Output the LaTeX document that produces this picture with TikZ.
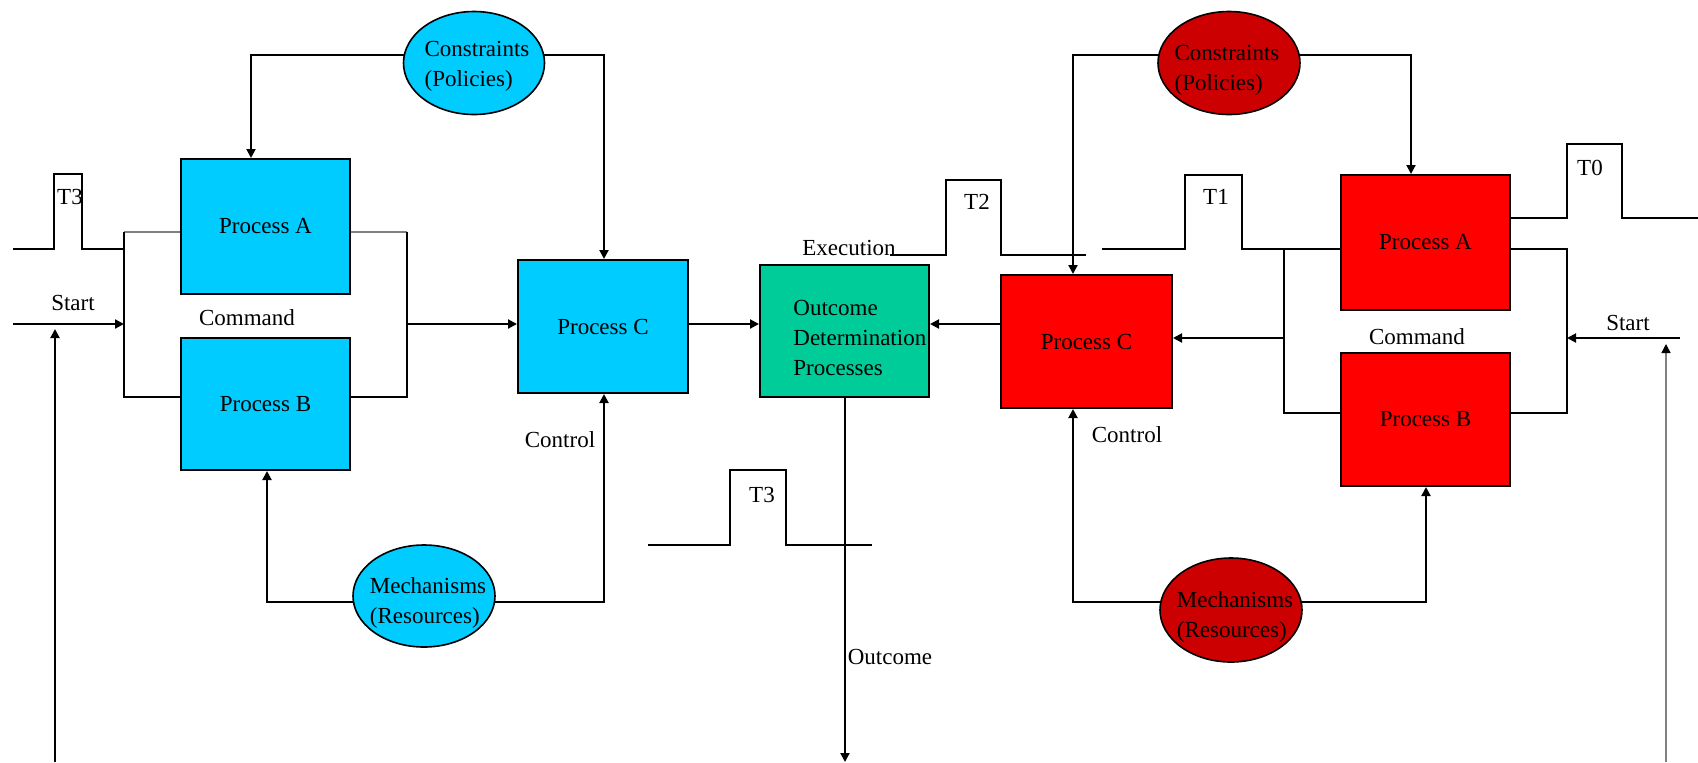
\documentclass[tikz,border=0pt]{standalone}
\usepackage{fontspec}
\setmainfont{Liberation Serif}
\usetikzlibrary{arrows.meta,shapes.geometric}
\definecolor{cblue}{HTML}{00CCFF}
\definecolor{cred}{HTML}{FF0000}
\definecolor{cdred}{HTML}{CC0000}
\definecolor{cgreen}{HTML}{00CC99}
\pgfdeclarelayer{bg}
\pgfsetlayers{bg,main}
\begin{document}
\begin{tikzpicture}[x=0.5pt,y=-0.5pt,
  font=\fontsize{11.5}{15}\selectfont,
  ln/.style={line width=1pt},
  arr/.style={line width=1pt,-{Triangle[length=4.5pt,width=4.5pt]}},
  greyln/.style={line width=0.7pt,draw=gray},
  box/.style={draw,line width=1pt,rectangle,inner sep=0pt},
  ell/.style={draw,line width=0.8pt,ellipse,inner sep=0pt},
  lab/.style={inner sep=0pt}]
\useasboundingbox (0,0) rectangle (1698,762);

% boxes
\node[box,fill=cblue,minimum width=84.5pt,minimum height=67.5pt] (bA) at (265.5,226.5) {Process A};
\node[box,fill=cblue,minimum width=84.5pt,minimum height=66pt] (bB) at (265.5,404) {Process B};
\node[box,fill=cblue,minimum width=85pt,minimum height=66.5pt] (bC) at (603,326.5) {Process C};
\node[box,fill=cgreen,minimum width=84.5pt,minimum height=66pt] (gO) at (844.5,331) {};
\node[lab,anchor=west,align=left,font=\fontsize{11.5}{14.8}\selectfont] (gT) at (793,338) {Outcome\\Determination\\Processes};
\node[box,fill=cred,minimum width=85.5pt,minimum height=66.5pt] (rC) at (1086.5,341.5) {Process C};
\node[box,fill=cred,minimum width=84.5pt,minimum height=67.5pt] (rA) at (1425.5,242.5) {Process A};
\node[box,fill=cred,minimum width=84.5pt,minimum height=66.5pt] (rB) at (1425.5,419.5) {Process B};

% ellipses
\node[ell,fill=cblue,minimum width=70.5pt,minimum height=51.5pt] (bCons) at (474,63) {};
\node[lab,align=left] (bConsT) at (477,66) {Constraints\\(Policies)};
\node[ell,fill=cdred,minimum width=71pt,minimum height=51.5pt] (rCons) at (1229,63) {};
\node[lab,align=left] (rConsT) at (1227,70) {Constraints\\(Policies)};
\node[ell,fill=cblue,minimum width=71pt,minimum height=51pt] (bMech) at (424,596) {};
\node[lab,align=left] (bMechT) at (428,603) {Mechanisms\\(Resources)};
\node[ell,fill=cdred,minimum width=71pt,minimum height=52pt] (rMech) at (1231,610) {};
\node[lab,align=left] (rMechT) at (1235,617) {Mechanisms\\(Resources)};

% labels
\node[lab] (lT3a) at (70,197) {T3};
\node[lab] (lStartL) at (73,303) {Start};
\node[lab] (lCmdL) at (247,318) {Command};
\node[lab] (lCtrlL) at (560,440) {Control};
\node[lab] (lExec) at (849,248) {Execution};
\node[lab] (lT2) at (977,202) {T2};
\node[lab] (lT3b) at (762,495) {T3};
\node[lab] (lOut) at (890,657) {Outcome};
\node[lab] (lCtrlR) at (1127,435) {Control};
\node[lab] (lT1) at (1216,197) {T1};
\node[lab] (lCmdR) at (1417,337) {Command};
\node[lab] (lT0) at (1590,168) {T0};
\node[lab] (lStartR) at (1628,323) {Start};

% coordinates
\coordinate (c1) at (251,55);
\coordinate (c2) at (604,55);
\coordinate (c3) at (267,602);
\coordinate (c4) at (604,602);
\coordinate (c5) at (1073,55);
\coordinate (c6) at (1411,55);
\coordinate (c7) at (1073,602);
\coordinate (c8) at (1426,602);
\coordinate (bl1) at (124,232);
\coordinate (bl2) at (124,397);
\coordinate (br1) at (407,232);
\coordinate (br2) at (407,397);
\coordinate (bm) at (407,324);
\coordinate (sL) at (13,324);
\coordinate (vL) at (55,762);
\coordinate (vLt) at (55,329);
\coordinate (oBot) at (845,762);
\coordinate (rbl1) at (1284,249);
\coordinate (rbl2) at (1284,413);
\coordinate (rbr1) at (1567,249);
\coordinate (rbr2) at (1567,413);
\coordinate (rbm) at (1284,338);
\coordinate (sR) at (1680,338);
\coordinate (vR) at (1666,762);
\coordinate (vRt) at (1666,344);
\coordinate (t0a) at (1567,218);
\coordinate (t1a) at (1102,249);

\begin{pgfonlayer}{bg}
% left constraints / mechanisms
\draw[arr] (c1 -| bCons.center) -- (c1) -- (c1 |- bA.north);
\draw[arr] (c2 -| bCons.center) -- (c2) -- (c2 |- bC.north);
\draw[arr] (c3 -| bMech.center) -- (c3) -- (c3 |- bB.south);
\draw[arr] (c4 -| bMech.center) -- (c4) -- (c4 |- bC.south);
% right constraints / mechanisms
\draw[arr] (c5 -| rCons.center) -- (c5) -- (c5 |- rC.north);
\draw[arr] (c6 -| rCons.center) -- (c6) -- (c6 |- rA.north);
\draw[arr] (c7 -| rMech.center) -- (c7) -- (c7 |- rC.south);
\draw[arr] (c8 -| rMech.center) -- (c8) -- (c8 |- rB.south);
\end{pgfonlayer}

% left T3 pulse and bus
\draw[ln] (13,249) -- (54,249) -- (54,174) -- (82,174) -- (82,249) -- (bl1 |- 0,249);
\draw[greyln] (bl1) -- (bl1 -| bA.west);
\draw[greyln] (br1 -| bA.east) -- (br1);
\draw[ln] (bl1) -- (bl2) -- (bl2 -| bB.west);
\draw[ln] (bB.east |- br2) -- (br2) -- (br1);
\draw[arr] (sL) -- (sL -| bl1);
\draw[arr] (vL) -- (vLt);
\draw[arr] (bm) -- (bm -| bC.west);
\draw[arr] (bC.east |- bm) -- (bm -| gO.west);
\draw[arr] (rC.west |- bm) -- (bm -| gO.east);
\draw[arr] (oBot |- gO.south) -- (oBot);

% middle T3 pulse
\draw[ln] (648,545) -- (730,545) -- (730,470) -- (786,470) -- (786,545) -- (872,545);
% T2 pulse
\draw[ln] (890,255) -- (946,255) -- (946,180) -- (1001,180) -- (1001,255) -- (1086,255);
% T1 pulse
\draw[ln] (t1a) -- (1185,249) -- (1185,175) -- (1242,175) -- (1242,249) -- (t1a -| rA.west);
% right bus
\draw[ln] (rbl1) -- (rbl2) -- (rbl2 -| rB.west);
\draw[ln] (rB.east |- rbr2) -- (rbr2) -- (rbr1) -- (rbr1 -| rA.east);
% T0 pulse
\draw[ln] (t0a -| rA.east) -- (t0a) -- (1567,144) -- (1622,144) -- (1622,218) -- (1698,218);
\draw[arr] (rbm) -- (rbm -| rC.east);
\draw[arr] (sR) -- (sR -| rbr1);
\draw[greyln,-{Triangle[length=4.5pt,width=4.5pt,color=black]}] (vR) -- (vRt);
\end{tikzpicture}
\end{document}
